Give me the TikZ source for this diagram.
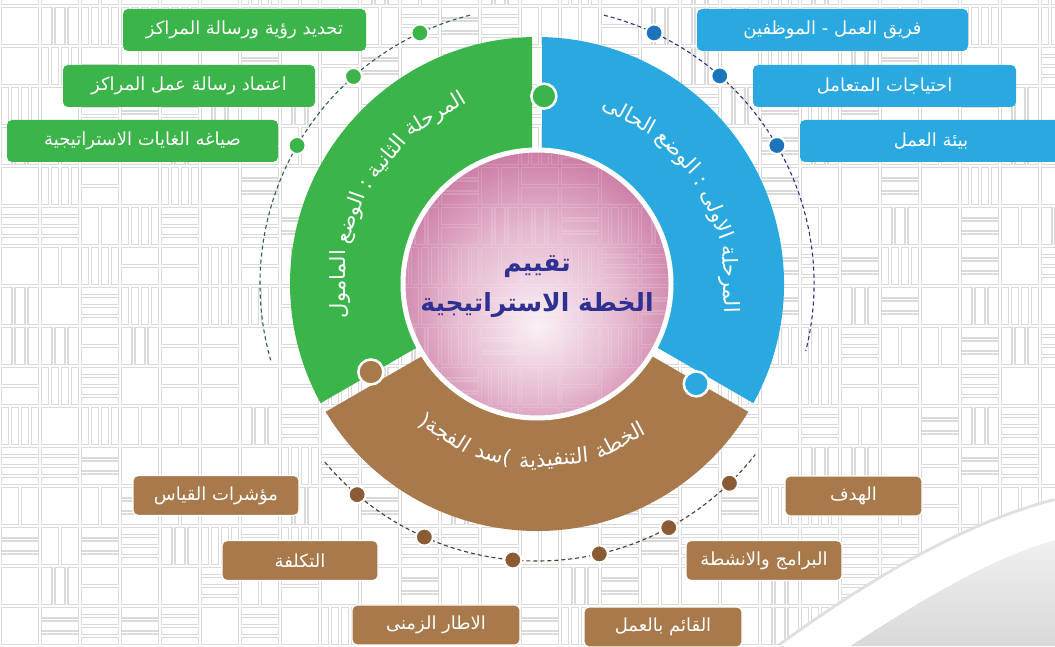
\documentclass[tikz,border=0pt]{standalone}
\usepackage{fontspec}
\newfontfamily\arabicfont[Script=Arabic]{DejaVu Sans}
\TeXXeTstate=1
\usetikzlibrary{positioning}

\definecolor{grn}{HTML}{3BB44A}
\definecolor{grndash}{HTML}{2F5D55}
\definecolor{blu}{HTML}{29A9E0}
\definecolor{bludot}{HTML}{1C75BC}
\definecolor{bludash}{HTML}{2E3180}
\definecolor{brn}{HTML}{A7794B}
\definecolor{brndot}{HTML}{8A5B34}
\definecolor{brndash}{HTML}{4D3A2A}
\definecolor{mazegray}{HTML}{DADADA}
\definecolor{navytxt}{HTML}{2E3192}
\definecolor{sphdark}{HTML}{A01F66}
\definecolor{sphmid}{HTML}{CB74A0}
\definecolor{sphlight}{HTML}{FAF0F5}

\pgfdeclareradialshading{sphere}{\pgfpoint{0bp}{-8bp}}{color(0bp)=(sphlight); color(16bp)=(sphlight!55!sphmid); color(36bp)=(sphmid!65!sphdark); color(50bp)=(sphdark)}

\newcommand{\arw}[1]{\beginR #1\endR}
\newcommand{\segfont}{\arabicfont\fontsize{21}{24}\selectfont}
\def\arcgap{7}
\newlength{\wordlen}

\newcommand{\drawmaze}[1]{%
  \pgfmathsetseed{2718}%
  \foreach \mi in {0,...,26}{%
    \foreach \mj in {0,...,16}{%
      \pgfmathrandominteger{\mo}{0}{1}%
      \pgfmathrandominteger{\mn}{1}{4}%
      \pgfmathsetmacro{\mw}{40/\mn}%
      \foreach \mk in {1,...,\mn}{%
        \ifnum\mo=0
          \draw[#1] ({\mi*40+(\mk-1)*\mw+1.5},{\mj*40+1.5}) rectangle ++({\mw-3},37);
        \else
          \draw[#1] ({\mi*40+1.5},{\mj*40+(\mk-1)*\mw+1.5}) rectangle ++(37,{\mw-3});
        \fi
      }%
    }%
  }%
}

\newcommand{\ringpart}[3]{%
  \fill[#1] ({#2+1.16}:247) arc[start angle={#2+1.16}, end angle={#3-1.16}, radius=247]
    -- ({#3-2.11}:136) arc[start angle={#3-2.11}, end angle={#2+2.11}, radius=136] -- cycle;
}

\newcommand{\measureword}[1]{%
  \pgfinterruptpicture
    \settowidth{\wordlen}{\segfont #1}%
    \xdef\wl{\the\wordlen}%
  \endpgfinterruptpicture
}

% #1 name, #2 centre angle, #3 radius, #4 direction, #5 rotation offset, #6 words left to right
\newcommand{\arcwords}[6]{%
  \gdef\arctotal{0}%
  \foreach \aw in {#6}{%
    \measureword{\aw}%
    \pgfmathparse{\arctotal+\wl+\arcgap}%
    \xdef\arctotal{\pgfmathresult}%
  }%
  \pgfmathparse{#2-(#4)*(\arctotal-\arcgap)/2/#3*180/pi}%
  \xdef\arcpos{\pgfmathresult}%
  \foreach \aw [count=\ai] in {#6}{%
    \measureword{\aw}%
    \pgfmathsetmacro{\wmid}{\arcpos+(#4)*\wl/2/#3*180/pi}%
    \node[seglabel, rotate={\wmid+(#5)}] (#1\ai) at (\wmid:#3) {\aw};
    \pgfmathparse{\arcpos+(#4)*(\wl+\arcgap)/#3*180/pi}%
    \xdef\arcpos{\pgfmathresult}%
  }%
}

\begin{document}
\begin{tikzpicture}[x=1pt, y=1pt,
  box/.style={rounded corners=5pt, minimum height=42pt, inner sep=0pt, text=white,
    font=\arabicfont\fontsize{18}{20}\selectfont},
  grnbox/.style={box, fill=grn},
  blubox/.style={box, fill=blu},
  brnbox/.style={box, fill=brn, draw=white, line width=1.2pt, minimum height=40pt},
  dot/.style={circle, minimum size=17pt, inner sep=0pt, draw=white, line width=2pt},
  knob/.style={circle, minimum size=25pt, inner sep=0pt, draw=white, line width=2.5pt},
  trail/.style={dash pattern=on 4pt off 3pt, line width=1.1pt},
  seglabel/.style={text=white, inner sep=0pt, font=\segfont}
]

\useasboundingbox (0,0) rectangle (1055,646);
\fill[white] (0,0) rectangle (1055,646);

\begin{scope}
\clip (0,0) rectangle (1055,646);
\drawmaze{draw=mazegray, line width=1.7pt}
\shade[top color=gray!12, bottom color=gray!30] (850,0) .. controls (920,45) and (990,88) .. (1055,106) -- (1055,0) -- cycle;
\draw[gray!25, line width=6pt] (780,0) .. controls (850,50) and (950,118) .. (1055,145);
\fill[white] (780,0) .. controls (850,50) and (950,118) .. (1055,145)
  -- (1055,106) .. controls (990,88) and (920,45) .. (850,0) -- cycle;
\end{scope}

\coordinate (C) at (537,362);

% dashed trails and dots
\begin{scope}[shift={(C)}]
\draw[grndash, trail] (104:277) arc[start angle=104, end angle=196, radius=277];
\draw[bludash, trail] (76:277) arc[start angle=76, end angle=-14, radius=277];
\draw[brndash, trail] (-140:277) arc[start angle=-140, end angle=-38, radius=277];

\node[dot, fill=grn] (gdot1) at (115:277) {};
\node[dot, fill=grn] (gdot2) at (131.5:277) {};
\node[dot, fill=grn] (gdot3) at (150:277) {};
\node[dot, fill=bludot] (bdot1) at (65:277) {};
\node[dot, fill=bludot] (bdot2) at (48.7:277) {};
\node[dot, fill=bludot] (bdot3) at (30:277) {};
\foreach \a [count=\i] in {-130.5,-114,-95,-77,-61.6,-46}
  \node[dot, fill=brndot] (rdot\i) at (\a:277) {};
\end{scope}

\node[grnbox, minimum width=243pt] (visbox) at (244.5,616) {\arw{تحديد رؤية  ورسالة المراكز}};
\node[grnbox, minimum width=252pt] (misbox) at (189,560) {\arw{اعتماد رسالة عمل المراكز}};
\node[grnbox, minimum width=271pt] (goalbox) at (142.5,505) {\arw{صياغه الغايات الاستراتيجية}};

\node[blubox, minimum width=271pt] (teambox) at (832.5,616) {\arw{فريق العمل - الموظفين}};
\node[blubox, minimum width=263pt] (needbox) at (884.5,560) {\arw{احتياجات المتعامل}};
\node[blubox, minimum width=262pt] (envbox) at (931,505) {\arw{بيئة العمل}};

\node[brnbox, minimum width=166pt] (kpibox) at (216,150.5) {\arw{مؤشرات القياس}};
\node[brnbox, minimum width=156pt] (costbox) at (300,85.5) {\arw{التكلفة}};
\node[brnbox, minimum width=168pt] (timebox) at (436,21) {\arw{الاطار الزمنى}};
\node[brnbox, minimum width=137pt] (aimbox) at (853.5,150) {\arw{الهدف}};
\node[brnbox, minimum width=156pt] (progbox) at (764,85.5) {\arw{البرامج والانشطة}};
\node[brnbox, minimum width=158pt] (ownerbox) at (663,19) {\arw{القائم بالعمل}};

% ring
\begin{scope}[shift={(C)}]
\ringpart{blu}{-30}{90}
\ringpart{grn}{90}{210}
\ringpart{brn}{210}{330}
\node[knob, fill=grn] (gknob) at (87.9:188) {};
\node[knob, fill=blu] (bknob) at (-32.1:188) {};
\node[knob, fill=brn] (rknob) at (207.9:188) {};

\arcwords{glbl}{150.5}{197}{-1}{-90}{\arw{المامول}, \arw{الوضع}, :, \arw{الثانية}, \arw{المرحلة}}
\arcwords{blbl}{30.5}{192}{-1}{-90}{\arw{الحالى}, \arw{الوضع}, :, \arw{الاولى}, \arw{المرحلة}}
\arcwords{rlbl}{-92}{176}{1}{90}{{(\arw{الفجة}}, {\arw{سد})}, \arw{التنفيذية}, \arw{الخطة}}
\end{scope}

% centre
\shade[shading=sphere] (C) circle[radius=134];
\begin{scope}
\clip (C) circle[radius=134];
\drawmaze{draw=white, opacity=0.15, line width=1.7pt}
\end{scope}
\draw[white, line width=5pt] (C) circle[radius=134];
\node[font=\arabicfont\bfseries\fontsize{25}{40}\selectfont, text=navytxt, align=center] (title) at (537,359)
  {\arw{تقييم}\\\arw{الخطة الاستراتيجية}};

\end{tikzpicture}
\end{document}
